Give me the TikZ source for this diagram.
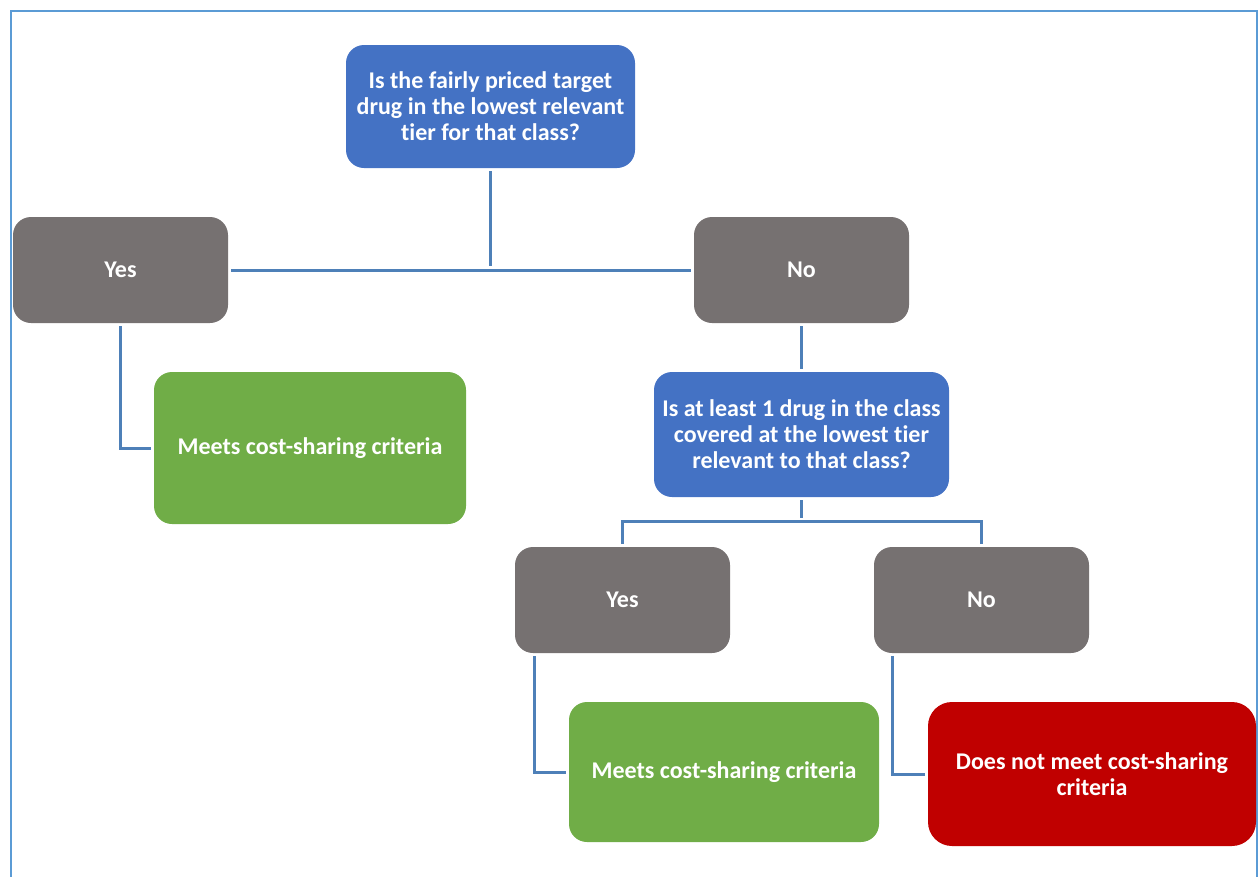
\documentclass[tikz,border=0pt]{standalone}
\usepackage{fontspec}
\setmainfont[Ligatures=NoCommon]{Carlito}
\definecolor{qblue}{HTML}{4472C4}
\definecolor{agray}{HTML}{767171}
\definecolor{okgreen}{HTML}{70AD47}
\definecolor{failred}{HTML}{C00000}
\definecolor{linkblue}{HTML}{4E80B8}
\definecolor{framblue}{HTML}{5B9BD5}
\tikzset{
  box/.style={rounded corners=18pt, text=white, align=center,
    font=\fontsize{24}{26}\selectfont\bfseries, inner sep=0pt},
  question/.style={box, fill=qblue, minimum width=289pt, minimum height=123pt},
  answer/.style={box, fill=agray, minimum width=215pt, minimum height=106pt},
  verdict/.style={box, minimum width=312pt, minimum height=152pt},
  link/.style={draw=linkblue, line width=3pt, shorten <=3pt, shorten >=3pt}
}
\begin{document}
\begin{tikzpicture}[x=1pt,y=-1pt]
      \useasboundingbox (0,0) rectangle (1259,876);
      \draw[framblue, line width=2pt] (10.5,877) -- (10.5,10.5) -- (1257,10.5) -- (1257,877);
      \draw
        (490.5,106.5) node[question] (q1){Is the fairly priced target\\drug in the lowest relevant\\tier for that class?}
        (120.5,270) node[answer] (yes1){Yes}
        (801.5,270) node[answer] (no1){No}
        (310,448) node[verdict, fill=okgreen] (ok1){Meets cost-sharing criteria}
        (801.5,434.5) node[question, minimum width=295pt, minimum height=125pt] (q2){Is at least 1 drug in the class\\covered at the lowest tier\\relevant to that class?}
        (622.5,600) node[answer] (yes2){Yes}
        (981.5,600) node[answer] (no2){No}
        (724,772) node[verdict, fill=okgreen, minimum width=310pt, minimum height=140pt] (ok2){Meets cost-sharing criteria}
        (1092,774) node[verdict, fill=failred, minimum width=328pt, minimum height=144pt, rounded corners=24pt] (fail){Does not meet cost-sharing\\criteria};
      \coordinate (split1) at (490.5,269);
      \coordinate (split2) at (801.5,521);
      \begin{scope}[link]
        \draw (q1.south) to (split1);
        \draw (yes1.east) to (no1.west);
        \draw (yes1.south) |- (ok1.west);
        \draw (no1.south) to (q2.north);
        \draw (q2.south) to (split2);
        \draw (yes2.north) |- (split2) -| (no2.north);
        \draw ([xshift=20pt]yes2.south west) |- (ok2.west);
        \draw ([xshift=19pt]no2.south west) |- (fail.west);
      \end{scope}
    \end{tikzpicture}
\end{document}
